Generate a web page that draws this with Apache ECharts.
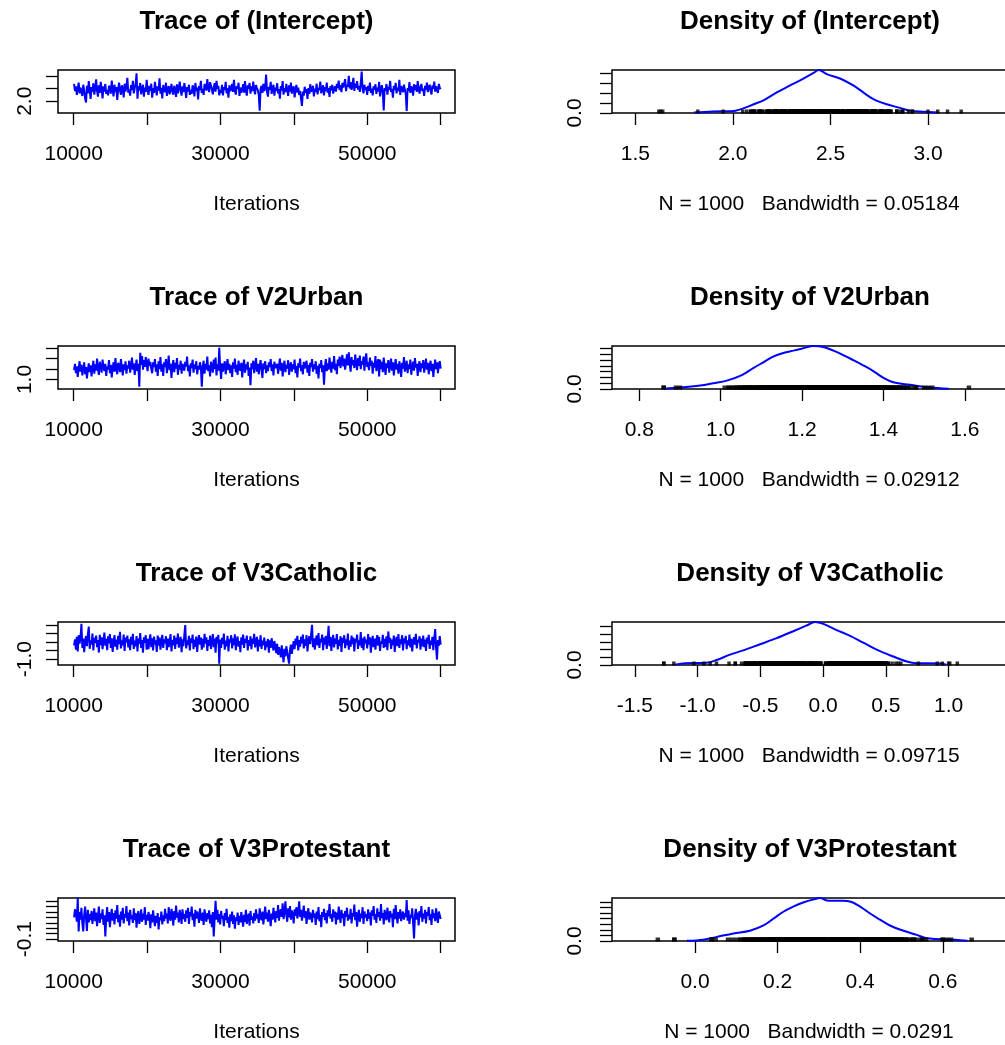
<!DOCTYPE html>
<html><head><meta charset="utf-8">
<script src="https://cdn.jsdelivr.net/npm/echarts@6/dist/echarts.min.js"></script>
<style>html,body{margin:0;padding:0;overflow:hidden;background:#fff}#c{width:1012px;height:1045px}</style>
</head><body><div id="c"></div><script>
// ---------------- data ----------------
const params = ['(Intercept)', 'V2Urban', 'V3Catholic', 'V3Protestant'];
const bandwidths = ['0.05184', '0.02912', '0.09715', '0.0291'];
const sampleN = 1000;
const iterFirst = 10050, iterLast = 60000;

const traceIntercept = [
2.68,2.40,2.59,2.25,2.49,2.73,2.31,2.54,2.36,2.21,2.65,2.44,2.13,1.95,2.61,2.31,2.79,2.46,2.09,2.56,
2.37,2.71,2.26,2.50,2.86,2.41,2.18,2.63,2.33,2.76,2.48,2.11,2.59,2.38,2.68,2.29,2.44,2.23,2.61,2.53,
2.30,2.81,2.45,2.19,2.65,2.36,2.56,2.05,2.49,2.73,2.41,2.26,2.63,2.50,2.15,2.69,2.38,2.59,2.92,2.34,
2.46,2.22,2.64,2.44,2.80,2.31,2.52,2.68,3.10,2.10,2.60,2.42,2.72,2.27,2.49,2.65,2.18,2.54,2.37,2.84,
2.45,2.25,2.61,2.40,2.69,2.14,2.52,2.33,2.76,2.48,2.23,2.59,2.42,2.90,2.30,2.53,2.11,2.64,2.45,2.36,
2.73,2.21,2.50,2.60,2.27,2.44,2.68,2.38,2.26,2.61,2.46,2.17,2.67,2.31,2.52,2.77,2.41,2.22,2.59,2.36,
2.71,2.48,2.13,2.56,2.38,2.65,2.25,2.45,2.29,2.63,2.50,2.19,2.72,2.40,2.54,2.07,2.60,2.44,2.80,2.33,
2.49,2.25,2.68,2.59,2.42,2.87,2.52,2.36,2.75,2.63,2.46,2.27,2.54,2.71,2.38,2.80,2.49,2.61,2.23,2.45,
2.33,2.65,2.23,2.56,2.44,2.76,2.31,2.52,2.14,2.63,2.40,2.48,2.68,2.37,2.84,2.42,2.26,2.60,2.50,2.73,
2.21,2.54,2.34,2.45,2.67,2.34,2.79,2.41,2.22,2.63,2.49,2.72,2.30,2.59,2.40,2.77,2.46,2.27,2.64,2.52,
2.44,2.25,1.63,2.49,2.61,2.33,2.68,2.41,2.53,3.05,2.37,2.18,2.57,2.45,2.76,2.29,2.50,2.65,2.22,2.54,
2.40,2.71,2.31,2.48,2.10,2.60,2.42,2.79,2.26,2.52,2.36,2.68,2.45,2.21,2.63,2.38,2.73,2.30,2.49,2.59,
2.15,2.46,2.64,2.34,2.54,2.25,2.41,2.11,1.82,2.38,2.22,2.57,2.33,2.48,2.09,2.52,2.29,2.67,2.37,2.45,
2.61,2.19,2.50,2.36,2.69,2.27,2.53,2.44,2.77,2.31,2.48,2.63,2.23,2.56,2.40,2.73,2.34,2.52,2.17,2.60,
2.42,2.65,2.30,2.49,2.59,2.38,2.68,2.52,2.81,2.44,2.63,2.36,2.72,2.54,2.48,2.87,2.40,2.65,2.57,3.00,
2.50,2.75,2.45,2.63,2.92,2.41,2.69,2.53,2.79,2.46,2.60,2.37,2.71,3.17,2.49,2.31,2.65,2.44,2.56,2.25,
2.61,2.41,2.73,2.33,2.50,2.23,2.59,2.45,2.67,2.29,2.54,2.38,2.76,2.19,2.48,2.63,2.34,1.64,2.52,2.42,
2.68,2.26,2.57,2.46,2.80,2.37,2.49,2.14,2.61,2.44,2.72,2.31,2.54,2.40,2.84,2.25,2.60,2.48,2.36,2.65,
2.45,2.29,1.62,2.52,2.41,2.75,2.33,2.59,2.49,2.22,2.67,2.44,2.63,2.37,2.79,2.48,2.30,2.56,2.68,2.40,
2.50,2.21,2.61,2.45,2.73,2.36,2.54,2.65,2.42,2.27,2.63,2.49,2.77,2.38,2.59,2.46,2.33,2.68,2.52,2.48];

const traceUrban = [
1.18,1.30,1.12,1.25,1.05,1.22,1.35,1.15,1.28,1.08,1.20,1.33,1.10,1.24,1.02,1.19,1.31,1.14,1.27,1.06,
1.23,1.36,1.11,1.29,1.17,1.40,1.21,1.09,1.34,1.26,1.13,1.38,1.24,1.16,1.30,1.07,1.25,1.19,1.37,1.12,
1.28,1.04,1.22,1.33,1.15,1.41,1.20,1.10,1.32,1.26,1.14,1.39,1.23,1.08,1.29,1.18,1.35,1.11,1.27,1.21,
1.36,1.13,1.25,1.42,1.19,1.31,1.09,1.24,1.38,1.16,1.30,0.86,1.51,1.28,1.45,1.19,1.37,1.24,1.43,1.30,
1.16,1.40,1.26,1.34,1.21,1.12,1.33,1.24,1.39,1.15,1.29,1.07,1.35,1.20,1.43,1.15,1.29,1.07,1.33,1.24,
1.39,1.12,1.27,1.46,1.18,1.30,1.03,1.26,1.37,1.14,1.32,1.21,1.41,1.09,1.28,1.19,1.36,1.11,1.30,1.23,
1.17,1.34,1.25,1.44,1.16,1.27,1.06,1.31,1.22,1.38,1.13,1.29,1.20,1.35,1.10,1.26,1.19,1.33,1.24,0.86,
1.23,1.36,1.11,1.30,1.19,1.44,1.16,1.27,1.06,1.34,1.25,1.13,1.38,1.20,1.42,1.08,1.29,1.17,1.61,1.23,
1.01,1.31,1.15,1.26,1.35,1.10,1.24,1.39,1.18,1.30,1.12,1.27,1.05,1.33,1.21,1.40,1.14,1.28,1.09,1.36,
1.22,1.17,1.32,1.04,1.25,1.38,1.13,1.29,1.19,1.34,1.07,1.23,0.89,1.31,1.20,1.36,1.12,1.27,1.41,1.15,
1.30,1.10,1.26,1.37,1.18,1.03,1.31,1.20,1.35,1.12,1.27,1.16,1.33,1.24,1.39,1.16,1.29,1.08,1.34,1.22,
1.19,1.30,1.11,1.26,1.40,1.17,1.32,1.06,1.24,1.36,1.14,1.28,1.21,1.37,1.09,1.25,1.33,1.15,1.29,1.20,
1.38,1.12,1.26,1.04,1.31,1.23,1.40,1.16,1.27,1.10,1.34,1.21,1.18,1.36,1.13,1.28,1.07,1.32,1.24,1.39,
1.15,1.29,1.20,1.35,1.11,1.26,1.02,1.30,1.22,1.37,1.14,1.27,0.90,1.24,1.39,1.16,1.31,1.19,1.42,1.25,
1.13,1.34,1.21,1.45,1.18,1.30,1.10,1.38,1.26,1.44,1.22,1.35,1.47,1.25,1.40,1.19,1.33,1.48,1.27,1.52,
1.30,1.15,1.43,1.27,1.37,1.22,1.48,1.31,1.18,1.41,1.26,1.46,1.20,1.35,1.29,1.44,1.17,1.38,1.50,1.24,
1.33,1.18,1.42,1.26,1.36,1.11,1.32,1.23,1.45,1.16,1.29,1.39,1.06,1.38,1.20,1.34,1.14,1.42,1.25,1.09,
1.31,1.22,1.37,1.13,1.28,1.40,1.17,1.33,1.08,1.26,1.39,1.19,1.30,1.11,1.35,1.24,1.05,1.32,1.21,1.43,
1.15,1.27,1.36,1.12,1.29,1.20,1.38,1.09,1.25,1.34,1.17,1.41,1.23,1.30,1.07,1.28,1.35,1.14,1.31,1.22,
1.37,1.13,1.26,1.40,1.19,1.32,1.10,1.27,1.36,1.16,1.30,1.05,1.24,1.38,1.20,1.33,1.12,1.29,1.35,1.21];

const traceCatholic = [
-0.20,0.15,-0.45,0.30,-0.55,0.40,-0.10,0.25,1.07,-0.35,0.20,-0.60,0.05,0.35,-0.25,0.45,0.91,-0.40,0.10,-0.15,
0.50,-0.50,0.25,-0.05,0.38,-0.30,0.12,-0.62,0.42,-0.18,0.28,-0.42,0.08,0.55,-0.22,0.18,-0.48,0.33,-0.08,0.47,
-0.35,0.22,-0.58,0.02,0.40,-0.28,0.14,-0.45,0.36,-0.12,0.60,-0.38,0.10,-0.20,0.44,-0.52,0.26,-0.02,0.38,-0.32,
0.16,-0.48,0.30,-0.15,0.48,-0.40,0.08,-0.25,0.35,-0.55,0.20,-0.10,0.52,-0.35,0.12,-0.62,0.28,-0.05,0.40,-0.45,
0.18,-0.42,0.06,0.45,-0.30,0.22,-0.50,0.32,-0.15,0.10,-0.58,0.38,-0.22,0.26,-0.45,0.04,0.42,-0.35,0.15,-0.08,
0.34,-0.48,0.20,-0.30,0.05,0.46,-0.55,0.12,-0.20,0.38,-0.40,0.24,-0.12,0.50,-0.33,0.08,0.30,-0.60,0.16,-0.25,
0.42,1.00,-0.38,0.10,-0.18,0.36,-0.50,0.22,-0.05,0.44,-0.42,0.14,-0.28,0.32,-0.58,0.06,0.40,-0.15,0.26,-0.45,
0.18,-0.32,0.48,-0.10,0.28,-0.52,0.12,-0.22,0.38,-0.40,0.02,0.46,-0.30,0.20,-0.62,0.30,-0.08,0.42,-1.27,0.14,
-0.35,0.24,-0.12,0.50,-0.45,0.08,-0.25,0.36,-0.55,0.16,-0.02,0.40,-0.38,0.22,-0.18,0.45,-0.48,0.10,0.32,-0.28,
0.06,-0.60,0.28,-0.15,0.44,-0.35,0.18,-0.05,0.38,-0.50,0.12,-0.22,0.34,-0.42,0.20,-0.10,0.48,-0.32,0.02,0.30,
-0.55,0.14,-0.25,0.40,-0.40,0.08,-0.18,0.26,-0.48,0.04,-0.30,0.18,-0.62,0.10,-0.35,0.22,-0.15,-0.50,0.06,-0.28,
-0.65,-0.10,-0.75,-0.30,-0.55,-0.90,-0.20,-0.70,-1.19,-0.40,-0.85,-0.25,-0.60,-0.95,-1.27,-0.45,-0.15,-0.70,-0.30,0.05,
-0.42,0.20,-0.18,0.36,-0.50,0.12,-0.28,0.30,-0.08,0.44,-0.38,0.16,-0.22,0.40,-0.55,0.08,0.34,-0.12,0.48,1.01,
-0.30,0.22,-0.45,0.10,0.38,-0.20,0.52,-0.35,0.18,-0.02,0.44,-0.48,0.26,-0.15,0.36,-0.40,0.14,0.95,-0.25,0.30,
-0.52,0.06,0.42,-0.32,0.20,-0.10,0.46,-0.44,0.12,-0.22,0.34,-0.58,0.24,-0.05,0.40,-0.36,0.16,-0.18,0.50,-0.45,
0.08,-0.28,0.38,-0.12,0.26,-0.55,0.18,-0.02,0.44,-0.40,0.10,-0.20,0.58,-0.34,0.22,-0.48,0.32,-0.08,0.14,-0.38,
0.46,-0.15,0.28,-0.62,0.06,0.36,-0.30,0.20,-0.45,0.12,0.40,-0.22,0.30,-0.52,0.04,-0.10,0.42,-0.35,0.18,-0.28,
0.34,-0.48,0.62,-0.05,0.24,-0.40,0.14,-0.18,0.38,-0.58,0.08,0.30,-0.25,0.46,-0.35,0.16,-0.12,0.40,-0.50,0.22,
-0.08,0.36,-0.42,0.10,-0.20,0.44,-0.32,0.18,-0.55,0.06,0.28,-0.15,0.48,-0.38,0.12,-0.02,0.34,-0.45,0.20,-0.25,
0.38,-0.30,0.14,-0.52,0.26,-0.10,0.42,-0.40,0.08,-0.18,0.30,-0.48,0.22,0.76,-0.35,-1.03,0.12,-0.22,0.34,-0.15];

const traceProtestant = [
0.30,0.45,0.38,0.22,0.67,0.04,0.40,0.26,0.48,0.19,0.04,0.35,0.50,0.28,0.05,0.44,0.21,0.36,0.25,0.42,
0.18,0.33,0.47,0.23,0.39,0.14,0.31,0.50,0.20,0.37,0.27,0.45,0.16,0.34,-0.05,0.29,0.49,0.22,0.40,0.12,
0.32,0.46,0.24,0.38,0.17,0.43,0.28,0.53,0.21,0.35,0.13,0.41,0.26,0.48,0.19,0.36,0.30,0.51,0.23,0.39,
0.15,0.44,0.27,0.34,0.20,0.47,0.25,0.38,0.11,0.33,0.42,0.18,0.29,0.45,0.22,0.37,0.26,0.49,0.16,0.35,
0.24,0.40,0.31,0.10,0.36,0.21,0.43,0.27,0.14,0.33,0.20,0.38,0.08,0.30,0.25,0.41,0.17,0.34,0.23,0.46,
0.28,0.37,0.19,0.49,0.31,0.24,0.46,0.35,0.15,0.42,0.26,0.52,0.30,0.39,0.21,0.44,0.33,0.18,0.45,0.27,
0.36,0.22,0.43,0.29,0.48,0.18,0.40,0.32,0.50,0.25,0.37,0.13,0.44,0.28,0.41,0.34,0.20,0.47,0.30,0.24,
0.39,0.16,0.45,0.31,0.22,0.38,0.27,0.43,0.19,0.35,0.12,0.40,-0.05,0.29,0.61,0.26,0.44,0.21,0.36,0.17,
0.42,0.28,0.33,0.14,0.38,0.25,0.46,0.20,0.31,0.11,0.36,0.23,0.41,0.18,0.34,0.09,0.30,0.24,0.39,0.16,
0.33,0.21,0.40,0.27,0.13,0.35,0.22,0.44,0.18,0.30,0.37,0.15,0.42,0.26,0.32,0.19,0.38,0.24,0.45,0.28,
0.36,0.20,0.47,0.31,0.25,0.41,0.17,0.34,0.50,0.27,0.39,0.22,0.44,0.30,0.14,0.37,0.26,0.48,0.33,0.21,
0.42,0.29,0.53,0.24,0.38,0.45,0.31,0.56,0.27,0.40,0.60,0.35,0.22,0.47,0.30,0.51,0.26,0.43,0.36,0.19,
0.45,0.33,0.49,0.28,0.40,0.60,0.31,0.44,0.24,0.38,0.52,0.29,0.42,0.18,0.36,0.47,0.26,0.39,0.33,0.21,
0.44,0.30,0.37,0.16,0.41,0.27,0.49,0.23,0.35,0.12,0.40,0.31,0.46,0.25,0.38,0.19,0.43,0.32,0.55,0.28,
0.36,0.22,0.45,0.30,0.41,0.17,0.39,0.26,0.50,0.33,0.20,0.44,0.29,0.37,0.14,0.42,0.31,0.48,0.24,0.35,
0.27,0.46,0.19,0.38,0.32,0.54,0.25,0.40,0.13,0.34,0.44,0.22,0.37,0.29,0.49,0.18,0.41,0.30,0.36,0.23,
0.45,0.28,0.39,0.15,0.43,0.33,0.51,0.26,0.36,0.20,0.47,0.31,0.40,0.24,0.55,0.29,0.38,0.17,0.44,0.32,
0.25,0.48,0.34,0.21,0.42,0.30,0.37,0.12,0.46,0.27,0.53,0.33,0.19,0.40,0.28,0.45,0.23,0.36,0.41,0.26,
0.38,0.31,0.62,0.24,0.43,0.18,0.35,0.29,0.47,0.20,-0.09,0.33,0.46,0.26,0.39,0.15,0.42,0.30,0.51,0.22,
0.37,0.28,0.44,0.19,0.40,0.33,0.49,0.25,0.36,0.16,0.45,0.29,0.38,0.23,0.47,0.31,0.20,0.41,0.34,0.27];

const densInterceptX = [1.80,1.896,1.995,2.046,2.106,2.157,2.225,2.293,2.361,2.413,2.440,2.481,2.549,2.617,2.668,2.720,2.788,2.856,2.907,2.984,3.05];
const densInterceptY = [0.03,0.08,0.09,0.21,0.44,0.64,1.04,1.39,1.74,2.02,2.17,1.96,1.74,1.39,1.04,0.70,0.44,0.26,0.12,0.06,0.02];
const densUrbanX = [0.86,0.901,0.950,0.982,1.015,1.052,1.080,1.105,1.130,1.154,1.179,1.203,1.228,1.252,1.277,1.301,1.326,1.350,1.375,1.400,1.424,1.465,1.514,1.56];
const densUrbanY = [0.03,0.12,0.30,0.50,0.72,1.20,1.80,2.30,2.80,3.10,3.30,3.50,3.70,3.62,3.30,2.92,2.48,2.04,1.54,0.95,0.58,0.36,0.13,0.03];
const densCatholicX = [-1.18,-1.101,-0.928,-0.849,-0.742,-0.636,-0.503,-0.370,-0.238,-0.131,-0.065,0.002,0.108,0.215,0.321,0.427,0.560,0.667,0.746,0.932,0.98];
const densCatholicY = [0.01,0.045,0.06,0.13,0.27,0.38,0.54,0.70,0.88,1.03,1.12,1.07,0.91,0.76,0.58,0.40,0.22,0.09,0.045,0.04,0.01];
const densProtestantX = [-0.02,0.020,0.053,0.093,0.133,0.166,0.190,0.214,0.238,0.262,0.287,0.303,0.319,0.351,0.375,0.400,0.424,0.448,0.472,0.505,0.537,0.561,0.630,0.66];
const densProtestantY = [0.02,0.12,0.37,0.68,0.92,1.39,2.00,2.62,3.08,3.45,3.72,3.85,3.63,3.60,3.54,3.08,2.46,1.91,1.39,0.92,0.55,0.25,0.12,0.02];

const traceXTicks = [10000,20000,30000,40000,50000,60000];
const traceXLabels = [10000,30000,50000];
const traceYTicks = [[2.0,2.5,3.0],[1.0,1.2,1.4,1.6],[-1.0,-0.5,0,0.5,1.0],[-0.1,0,0.1,0.2,0.3,0.4,0.5,0.6]];
const traceYLabels = [[2.0],[1.0],[-1.0],[-0.1]];
const densXTicks = [[1.5,2.0,2.5,3.0],[0.8,1.0,1.2,1.4,1.6],[-1.5,-1.0,-0.5,0,0.5,1.0],[0,0.2,0.4,0.6]];
const densYTicks = [[0,0.5,1,1.5,2],[0,0.5,1,1.5,2,2.5,3,3.5],[0,0.2,0.4,0.6,0.8,1.0],[0,0.5,1,1.5,2,2.5,3,3.5]];
const densYLabels = [[0],[0],[0],[0]];

// ---------------- layout ----------------
const traces = [traceIntercept, traceUrban, traceCatholic, traceProtestant];
const densX = [densInterceptX, densUrbanX, densCatholicX, densProtestantX];
const densY = [densInterceptY, densUrbanY, densCatholicY, densProtestantY];
const traceYRange = [[1.538,3.23],[0.818,1.642],[-1.35,1.175],[-0.136,0.66]];
const densXRange = [[1.38,3.41],[0.733,1.706],[-1.683,1.474],[-0.201,0.758]];
const densYMax = [2.17,3.7,1.12,3.85];
const rugWidth = [3.5,4.5,3.5,4.5];
const rowOff = [0,276,552,828];
const FONT = "'Liberation Sans', Arial, sans-serif";
const BLUE = '#0000ff';

const grids = [], xAxis = [], yAxis = [], series = [], graphic = [];
function ax(extra) {
  const base = {
    type: 'value', axisLine: {show: false, onZero: false}, splitLine: {show: false},
    axisTick: {show: true, length: 12, lineStyle: {color: '#000', width: 1.3}},
    axisLabel: {color: '#000', fontSize: 21, fontFamily: FONT, showMinLabel: true, showMaxLabel: true}
  };
  const o = Object.assign({}, base, extra);
  o.axisTick = Object.assign({}, base.axisTick, extra.axisTick || {});
  o.axisLabel = Object.assign({}, base.axisLabel, extra.axisLabel || {});
  return o;
}
const fmt1 = v => (Math.round(v * 10) / 10).toFixed(1);

for (let r = 0; r < 4; r++) {
  const top = 70 + rowOff[r];
  const gT = 2 * r, gD = 2 * r + 1;
  grids.push({left: 58, top: top, width: 397, height: 43, show: true, borderColor: '#000', borderWidth: 1.5, backgroundColor: 'transparent'});
  grids.push({left: 612, top: top, width: 396, height: 43, show: true, borderColor: '#000', borderWidth: 1.5, backgroundColor: 'transparent'});
  xAxis.push(ax({gridIndex: gT, min: 7860, max: 61950,
    axisTick: {customValues: traceXTicks},
    axisLabel: {customValues: traceXLabels, margin: 31, formatter: v => String(v)}}));
  yAxis.push(ax({gridIndex: gT, min: traceYRange[r][0], max: traceYRange[r][1],
    axisTick: {customValues: traceYTicks[r]},
    axisLabel: {customValues: traceYLabels[r], rotate: 90, margin: 22, formatter: fmt1}}));
  xAxis.push(ax({gridIndex: gD, min: densXRange[r][0], max: densXRange[r][1],
    axisTick: {customValues: densXTicks[r]},
    axisLabel: {customValues: densXTicks[r], margin: 31, formatter: fmt1}}));
  yAxis.push(ax({gridIndex: gD, min: 0, max: densYMax[r],
    axisTick: {customValues: densYTicks[r]},
    axisLabel: {customValues: densYLabels[r], rotate: 90, margin: 26, formatter: fmt1}}));

  const vals = traces[r];
  const step = (iterLast - iterFirst) / (vals.length - 1);
  series.push({type: 'line', xAxisIndex: gT, yAxisIndex: gT, symbol: 'none', sampling: null,
    lineStyle: {color: BLUE, width: 2}, data: vals.map((v, i) => [iterFirst + i * step, v]), z: 2});
  series.push({type: 'line', xAxisIndex: gD, yAxisIndex: gD, symbol: 'none', smooth: 0.35,
    lineStyle: {color: BLUE, width: 2}, data: densX[r].map((x, i) => [x, densY[r][i]]), z: 2});
  series.push({type: 'scatter', xAxisIndex: gD, yAxisIndex: gD, symbol: 'rect', symbolSize: [rugWidth[r], 4], symbolOffset: [0, -1.5],
    itemStyle: {color: '#000'}, clip: false, silent: true, data: vals.map(v => [v, 0]), z: 3});

  graphic.push({type: 'text', x: 256.5, y: 22 + rowOff[r],
    style: {text: 'Trace of ' + params[r], font: 'bold 26px ' + FONT, fill: '#000', align: 'center', verticalAlign: 'middle'}});
  graphic.push({type: 'text', x: 810, y: 22 + rowOff[r],
    style: {text: 'Density of ' + params[r], font: 'bold 26px ' + FONT, fill: '#000', align: 'center', verticalAlign: 'middle'}});
  graphic.push({type: 'text', x: 256.5, y: 204 + rowOff[r],
    style: {text: 'Iterations', font: '21px ' + FONT, fill: '#000', align: 'center', verticalAlign: 'middle'}});
  graphic.push({type: 'text', x: 809, y: 204 + rowOff[r],
    style: {text: 'N = ' + sampleN + '   Bandwidth = ' + bandwidths[r], font: '21px ' + FONT, fill: '#000', align: 'center', verticalAlign: 'middle'}});
}

const chart = echarts.init(document.getElementById('c'), null, {renderer: 'canvas'});
chart.setOption({animation: false, backgroundColor: '#fff', grid: grids, xAxis: xAxis, yAxis: yAxis, series: series, graphic: graphic});
</script></body></html>
